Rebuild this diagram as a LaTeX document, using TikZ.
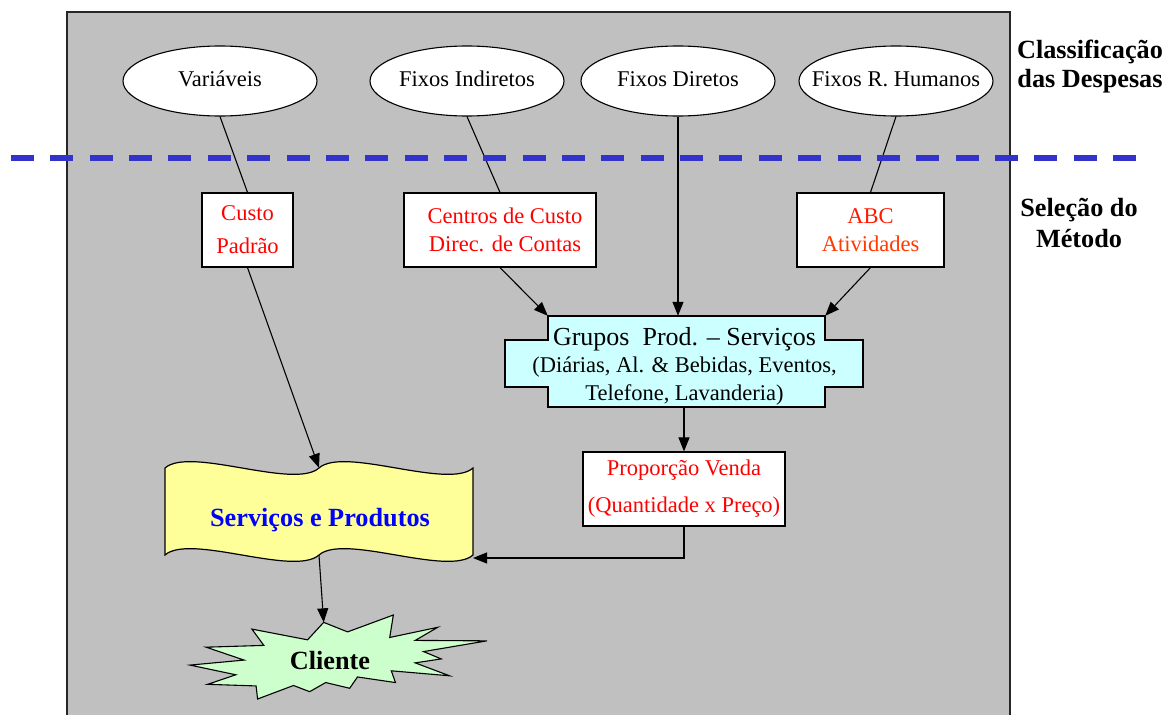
\documentclass[tikz,border=0pt]{standalone}
\usepackage{fontspec}
\setmainfont{Liberation Serif}
\usetikzlibrary{shapes.geometric,arrows.meta}
\definecolor{panelgray}{HTML}{C0C0C0}
\definecolor{groupfill}{HTML}{CCFFFF}
\definecolor{servfill}{HTML}{FFFF99}
\definecolor{clientfill}{HTML}{CCFFCC}
\definecolor{dashblue}{HTML}{3333CC}
\definecolor{abcred}{HTML}{FF1A00}
\definecolor{atvred}{HTML}{FF3A00}
\begin{document}
\begin{tikzpicture}[x=1pt,y=-1pt,
  conn/.style={line width=1.1pt},
  arr/.style={conn,-{Triangle[length=14pt,width=11pt]}},
  cat/.style={ellipse,draw,line width=1.1pt,fill=white,minimum width=194pt,
    minimum height=70pt,inner sep=0pt},
  cattext/.style={inner sep=0pt,font=\fontsize{22.5}{27}\selectfont},
  method/.style={rectangle,draw,line width=1.2pt,fill=white,inner sep=0pt,
    minimum height=74pt,text=red,align=center},
  anchorbox/.style={rectangle,inner sep=0pt},
  sidelabel/.style={align=center,inner sep=0pt}
]
\useasboundingbox (0,0) rectangle (1168,715);

% grey background panel
\fill[panelgray] (67,12) rectangle (1010,720);
\draw[line width=1.5pt,black!85] (67,720) -- (67,12) -- (1010,12) -- (1010,720);

% expense classes
\node[cat] (var) at (220,81) {};
\node[cattext] (var-t) at (220,79) {Variáveis};
\node[cat] (fi) at (467,81) {};
\node[cattext] (fi-t) at (467,79) {Fixos Indiretos};
\node[cat] (fd) at (678,81) {};
\node[cattext] (fd-t) at (678,79) {Fixos Diretos};
\node[cat] (frh) at (896,81) {};
\node[cattext] (frh-t) at (896,79) {Fixos R. Humanos};

% costing methods
\node[method,minimum width=91pt,font=\fontsize{22.5}{33}\selectfont] (cp) at (247.5,230) {Custo\\Padrão};
\node[method,minimum width=192pt,font=\fontsize{22.5}{28}\selectfont] (cc) at (500,230) {\hspace*{10pt}Centros de Custo\\\hspace*{10pt}Direc. de Contas};
\node[method,minimum width=147pt,font=\fontsize{22.5}{28}\selectfont] (abc) at (870.5,230) {\textcolor{abcred}{ABC}\\\textcolor{atvred}{Atividades}};

% product / service groups
\draw[fill=groupfill,line width=1.2pt]
  (548,316) -- (825,316) -- (825,340) -- (863,340) -- (863,387) -- (825,387)
  -- (825,407) -- (548,407) -- (548,387) -- (505,387) -- (505,340) -- (548,340) -- cycle;
\node[anchorbox,minimum width=277pt,minimum height=91pt] (grp) at (686.5,361.5) {};
\node[align=center,inner sep=0pt,font=\fontsize{22.5}{27.5}\selectfont] (grp-t) at (684.5,366)
  {{\fontsize{26}{28}\selectfont Grupos\ \ Prod. -- Serviços}\\
   (Diárias, Al. \& Bebidas, Eventos,\\
   Telefone, Lavanderia)};

% sales proportion
\node[method,minimum width=202pt,font=\fontsize{22.5}{37}\selectfont] (pv) at (684,489) {Proporção Venda\\(Quantidade x Preço)};

% services and products banner
\draw[fill=servfill,line width=1.2pt]
  (165,468) .. controls (190,446) and (294,490) .. (319,468)
  .. controls (344,446) and (448,490) .. (473,468) -- (473,555)
  .. controls (448,577) and (344,533) .. (319,555)
  .. controls (294,577) and (190,533) .. (165,555) -- cycle;
\node[anchorbox,minimum width=308pt,minimum height=87pt] (sp) at (319,511.5) {};
\node[inner sep=0pt,text=blue,font=\bfseries\fontsize{26.25}{30}\selectfont] (sp-t) at (320,520) {Serviços e Produtos};
\coordinate (spr) at (473,558);

% customer burst
\begin{scope}[shift={(190,615)},x=2.97pt,y=-0.84pt]
\draw[fill=clientfill,line width=1.1pt]
  (53.06,20.10) -- (68.47,0) -- (67.25,26.75) -- (83.37,14.69) -- (75.83,30.24)
  -- (100,30.76) -- (78.63,43.53) -- (84.58,52.27) -- (75.83,56.99) -- (87.39,72.37)
  -- (67.78,66.44) -- (69.18,80.42) -- (56.39,73.77) -- (53.76,87.23) -- (45.70,80.42)
  -- (40.28,91.26) -- (34.85,83.91) -- (22.76,100) -- (22.25,84.44) -- (5.95,82.52)
  -- (15.42,71.16) -- (0,59.62) -- (18.22,53.67) -- (5.43,38.29) -- (24.87,36.19)
  -- (20.84,16.78) -- (39.58,29.55) -- (45.01,8.74) -- cycle;
\coordinate (cltop) at (45.01,8.74);
\end{scope}
\node[inner sep=0pt,font=\bfseries\fontsize{26.25}{30}\selectfont] (cl) at (330,661) {Cliente};

% connectors
\draw[conn] (var.south) -- (cp.north);
\draw[conn] (fi.south) -- (cc.north);
\draw[conn] (frh.south) -- (abc.north);
\draw[arr] (cp.south) -- (sp.north);
\draw[arr] (cc.south) -- (grp.north west);
\draw[arr] (abc.south) -- (grp.north east);
\draw[arr] (fd.south) -- (grp.north -| fd.south);
\draw[arr] (grp.south -| pv.north) -- (pv.north);
\draw[arr] (pv.south) |- (spr);
\draw[arr] (sp.south) -- (cltop);

% boundary between classification and method selection
\draw[dashblue,line width=6pt,dash pattern=on 23pt off 16.36pt] (11,158) -- (1136,158);

% side headings
\node[sidelabel,font=\bfseries\fontsize{26.25}{29}\selectfont] (cls) at (1090,67) {Classificação\\das Despesas};
\node[sidelabel,font=\bfseries\fontsize{26.25}{31}\selectfont] (sel) at (1079,223) {Seleção do\\Método};
\end{tikzpicture}
\end{document}
